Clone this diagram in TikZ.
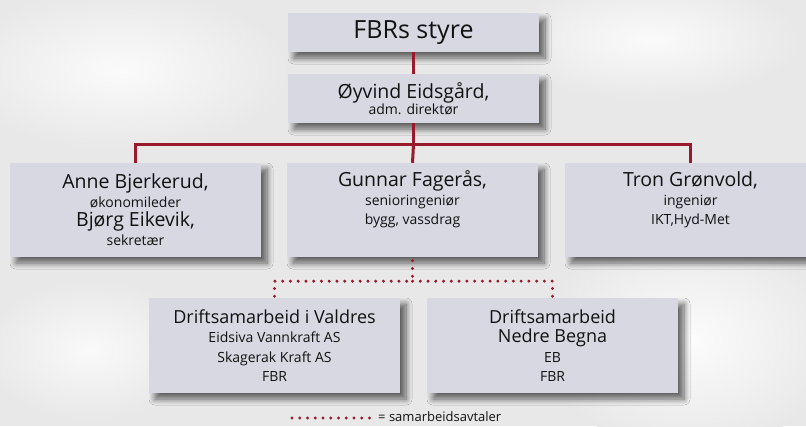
\documentclass[tikz,border=0pt]{standalone}
\usepackage{fontspec}
\setmainfont{Open Sans}
\usetikzlibrary{shadows.blur,calc}
\definecolor{bg}{HTML}{E8E8E9}
\definecolor{boxfill}{HTML}{D8D8E3}
\definecolor{conn}{HTML}{9A1A2B}
\definecolor{ink}{HTML}{111111}
\newcommand{\smalltxt}[1]{{\fontsize{14}{19}\selectfont #1}}
\tikzset{
  orgbox/.style={draw=none, fill=boxfill, inner sep=0pt, minimum width=251pt,
    align=center, text=ink, font=\fontsize{19.5}{19}\selectfont,
    blur shadow={shadow xshift=6pt, shadow yshift=-6pt, shadow blur radius=6pt,
      shadow blur steps=10, shadow opacity=60}},
  solidconn/.style={draw=conn, line width=3pt},
  dotconn/.style={draw=conn, line width=3.3pt, line cap=round,
    dash pattern=on 0pt off 7.75pt},
}
\begin{document}
\begin{tikzpicture}[x=1pt,y=-1pt]
\useasboundingbox (0,0) rectangle (806,426);
\fill[bg] (0,0) rectangle (806,426);
\clip (0,0) rectangle (806,426);
\shade[inner color=white!85!bg, outer color=bg] (690,340) ellipse [x radius=150pt, y radius=110pt];
\shade[inner color=white!80!bg, outer color=bg] (120,70) ellipse [x radius=170pt, y radius=80pt];
\shade[inner color=white!80!bg, outer color=bg] (650,40) ellipse [x radius=150pt, y radius=60pt];
\shade[inner color=white!75!bg, outer color=bg] (90,350) ellipse [x radius=110pt, y radius=70pt];

% boxes
\node[orgbox, minimum height=39pt, font=\fontsize{25}{25}\selectfont] (b1) at (413.5,32.5) {FBRs styre};
\node[orgbox, minimum height=49pt] (b2) at (413.5,98.5) {Øyvind Eidsgård,\\[-3pt]\smalltxt{adm. direktør}};
\node[orgbox, minimum height=94pt] (b3) at (135.5,210) {Anne Bjerkerud,\\\smalltxt{økonomileder}\\Bjørg Eikevik,\\\smalltxt{sekretær}};
\node[orgbox, minimum height=94pt] (b4) at (412.5,210) {Gunnar Fagerås,\\\smalltxt{senioringeniør}\\\smalltxt{bygg, vassdrag}\\\smalltxt{\strut}};
\node[orgbox, minimum height=94pt] (b5) at (690.5,210) {Tron Grønvold,\\\smalltxt{ingeniør}\\\smalltxt{IKT,Hyd-Met}\\\smalltxt{\strut}};
\node[orgbox, minimum height=95pt, font=\fontsize{18}{19.3}\selectfont] (b6) at (274.5,345.5) {Driftsamarbeid i Valdres\\\smalltxt{Eidsiva Vannkraft AS}\\\smalltxt{Skagerak Kraft AS}\\\smalltxt{FBR}};
\node[orgbox, minimum height=95pt, font=\fontsize{18}{19.3}\selectfont] (b7) at (552.5,345.5) {Driftsamarbeid\\Nedre Begna\\\smalltxt{EB}\\\smalltxt{FBR}};

% solid connectors
\draw[solidconn] (b1.south) -- (b2.north);
\draw[solidconn] (b2.south) -- ++(0,21) coordinate (j1);
\draw[solidconn] (b3.north) |- (j1) -| (b5.north);
\draw[solidconn] (j1) -- (b4.north);

% dotted connectors
\coordinate (j2) at ($(b4.south)+(0,24)$);
\draw[dotconn] (b4.south) ++(0,3.5) -- (j2);
\draw[dotconn] (b6.north) ++(0,-1.5) |- (j2);
\draw[dotconn] (b7.north) ++(0,-1.5) |- (j2);

% legend
\coordinate (l1) at (292,418);
\coordinate (l2) at (370,418);
\draw[dotconn] (l1) -- (l2);
\node[anchor=base west, inner sep=0pt, text=ink, font=\fontsize{13}{15}\selectfont] (leg) at (378,421.5) {= samarbeidsavtaler};
\end{tikzpicture}
\end{document}
